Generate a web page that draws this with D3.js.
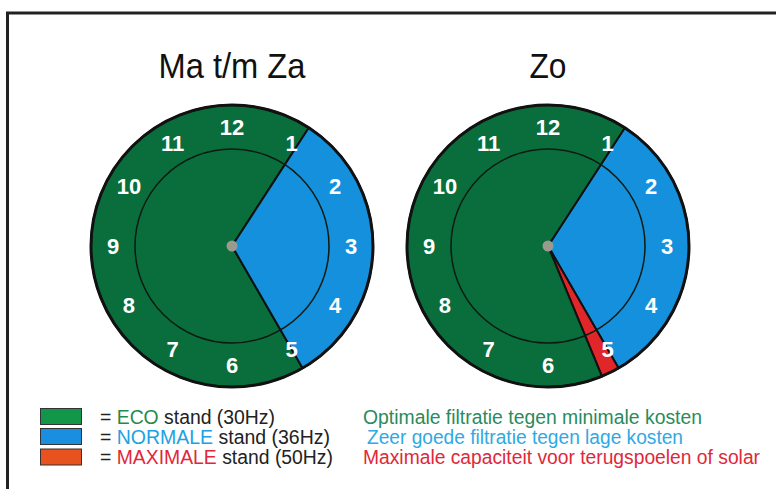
<!DOCTYPE html>
<html><head><meta charset="utf-8">
<script src="https://cdn.jsdelivr.net/npm/d3@7"></script>
<style>html,body{margin:0;padding:0;background:#fff;}svg{display:block;font-family:"Liberation Sans",Arial,sans-serif;}</style>
</head><body>
<svg id="c" width="776" height="489"></svg>
<script>
// ---- data ----
const clockTitles = ["Ma t/m Za", "Zo"];
const hourLabels = ["12","1","2","3","4","5","6","7","8","9","10","11"];
const segClock = [0, 0, 1, 1, 1];
const segMode  = ["ECO", "NORMALE", "NORMALE", "MAXIMALE", "ECO"];
const segStart = [5, 1.1, 1.1, 5, 5.25];
const segEnd   = [13.1, 5, 5, 5.25, 13.1];
const modeNames = ["ECO", "NORMALE", "MAXIMALE"];
const modeRest  = [" stand (30Hz)", " stand (36Hz)", " stand (50Hz)"];
const modeDesc  = ["Optimale filtratie tegen minimale kosten",
                   "Zeer goede filtratie tegen lage kosten",
                   "Maximale capaciteit voor terugspoelen of solar"];

// ---- styles ----
const clockFill = {ECO:"#0a6e3c", NORMALE:"#1590dc", MAXIMALE:"#e1262a"};
const boxFill   = ["#14964a", "#1a8fe0", "#e8521f"];
const nameColor = ["#1f8c4b", "#20a2e2", "#e0283a"];
const descColor = ["#2a8b5c", "#2fa9e3", "#e0283a"];

const svg = d3.select("#c");
// frame
svg.append("path").attr("d","M7.5,489 V13 H776").attr("fill","none").attr("stroke","#222").attr("stroke-width",3);

const centersX = [232, 548], cy = 246, R = 141, rInner = 97, rLabel = 119;
const titleW = [147, 37];
const angle = d3.scaleLinear().domain([0, 12]).range([0, 2*Math.PI]);
const arc = d3.arc().innerRadius(0).outerRadius(R);

clockTitles.forEach((t, ci) => {
  const g = svg.append("g").attr("transform", `translate(${centersX[ci]},${cy})`);
  svg.append("text").attr("x", centersX[ci] - titleW[ci]/2).attr("y", 78)
     .attr("font-size", 35).attr("fill","#111")
     .attr("textLength", titleW[ci]).attr("lengthAdjust","spacingAndGlyphs").text(t);
  g.append("circle").attr("r", R).attr("fill", clockFill.ECO);
  const segs = d3.range(segClock.length).filter(i => segClock[i] === ci);
  g.selectAll("path.seg").data(segs).join("path").attr("class","seg")
    .attr("d", i => arc({startAngle: angle(segStart[i]), endAngle: angle(segEnd[i])}))
    .attr("fill", i => clockFill[segMode[i]]).attr("stroke","#111").attr("stroke-width",2).attr("stroke-linejoin","round");
  g.append("circle").attr("r", rInner).attr("fill","none").attr("stroke","#0d1a12").attr("stroke-width",1.5);
  g.append("circle").attr("r", R).attr("fill","none").attr("stroke","#111").attr("stroke-width",3);
  g.append("circle").attr("r", 5.5).attr("fill","#9a9a8e");
  g.selectAll("text.h").data(hourLabels).join("text").attr("class","h")
    .attr("x", (d,i) => rLabel*Math.sin(angle(i)))
    .attr("y", (d,i) => -rLabel*Math.cos(angle(i)))
    .attr("dy","0.36em").attr("text-anchor","middle")
    .attr("font-size", 22).attr("font-weight","bold").attr("fill","#fff").text(d => d);
});

// legend
const leg = svg.append("g");
const rowY = [416.5, 436.5, 457];
const leftW = [175, 230, 233], rightW = [339, 316, 397];
modeNames.forEach((m, i) => {
  leg.append("rect").attr("x", 40.5).attr("y", rowY[i]-8).attr("width", 41).attr("height", 16)
     .attr("fill", boxFill[i]).attr("stroke","#333").attr("stroke-width",1);
  const t = leg.append("text").attr("x", 100).attr("y", rowY[i]+7).attr("font-size", 20)
     .attr("textLength", leftW[i]).attr("lengthAdjust","spacingAndGlyphs");
  t.append("tspan").attr("fill","#222").text("= ");
  t.append("tspan").attr("fill", nameColor[i]).text(m);
  t.append("tspan").attr("fill","#222").text(modeRest[i]);
  leg.append("text").attr("x", i === 1 ? 367 : 363).attr("y", rowY[i]+7).attr("font-size", 20)
     .attr("fill", descColor[i]).attr("textLength", rightW[i]).attr("lengthAdjust","spacingAndGlyphs")
     .text(modeDesc[i]);
});
</script>
</body></html>
